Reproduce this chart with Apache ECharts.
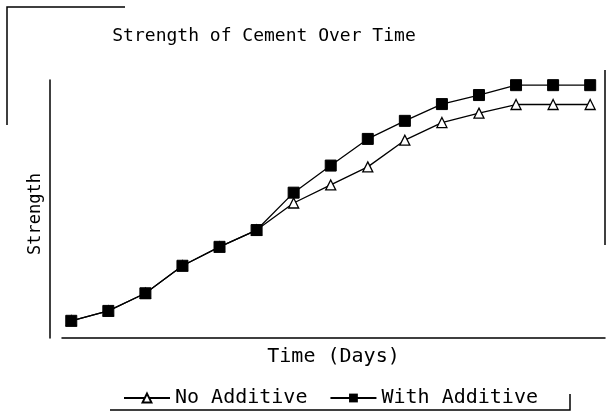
<html>
<head>
    <meta charset='utf-8'>
    <script src='https://cdn.jsdelivr.net/npm/echarts@6/dist/echarts.min.js'></script>
    <style>
        html, body, #main {
            width: 100%;
            height: 100%;
            margin: 0;
            background: #fff;
        }
    </style>
</head>
<body>
<div id='main'></div>
<script>
    // day index along the x axis (no tick labels in the original)
    var days = [1, 2, 3, 4, 5, 6, 7, 8, 9, 10, 11, 12, 13, 14, 15];
    var noAdditive = [4.0, 6.3, 10.4, 16.8, 21.2, 25.1, 31.4, 35.6, 39.8, 46.0, 50.1, 52.3, 54.3, 54.3, 54.3];
    var withAdditive = [4.0, 6.3, 10.4, 16.8, 21.2, 25.1, 33.8, 40.1, 46.3, 50.5, 54.4, 56.5, 58.8, 58.8, 58.8];

    var mono = 'DejaVu Sans Mono';
    function pairs(vals) {
        var res = [];
        for (var i = 0; i < days.length; i++) {
            res.push([days[i], vals[i]]);
        }
        return res;
    }

    var myChart = echarts.init(document.getElementById('main'));
    myChart.setOption({
        backgroundColor: '#fff',
        animation: false,
        title: {
            text: 'Strength of Cement Over Time',
            left: 259,
            textAlign: 'center',
            top: 22,
            textStyle: {
                fontFamily: mono,
                fontSize: 18,
                fontWeight: 'normal',
                color: '#000'
            }
        },
        legend: {
            left: 118,
            top: 383,
            itemGap: 22,
            itemWidth: 46,
            itemHeight: 11,
            textStyle: {
                fontFamily: mono,
                fontSize: 20,
                color: '#000'
            },
            data: ['No Additive', 'With Additive']
        },
        grid: {
            left: 62,
            right: 7,
            top: 80,
            bottom: 78
        },
        xAxis: {
            type: 'value',
            min: 0.75,
            max: 15.4,
            name: 'Time (Days)',
            nameLocation: 'middle',
            nameGap: 9,
            nameTextStyle: {
                fontFamily: mono,
                fontSize: 20,
                color: '#000'
            },
            axisLine: { lineStyle: { color: '#000', width: 1.5 } },
            axisTick: { show: false },
            axisLabel: { show: false },
            splitLine: { show: false }
        },
        yAxis: {
            type: 'value',
            min: 0,
            max: 60,
            offset: 12,
            name: 'Strength',
            nameLocation: 'middle',
            nameGap: 6,
            nameTextStyle: {
                fontFamily: mono,
                fontSize: 17,
                color: '#000',
                padding: [0, 10, 0, 0]
            },
            axisLine: { show: true, lineStyle: { color: '#000', width: 1.5 } },
            axisTick: { show: false },
            axisLabel: { show: false },
            splitLine: { show: false }
        },
        graphic: [
            {
                type: 'polyline',
                shape: { points: [[110, 410], [570, 410], [570, 394]] },
                style: { stroke: '#000', lineWidth: 1.5, fill: null }
            },
            {
                type: 'polyline',
                shape: { points: [[7, 125], [7, 7], [125, 7]] },
                style: { stroke: '#000', lineWidth: 1.5, fill: null }
            },
            {
                type: 'line',
                shape: { x1: 605, y1: 70, x2: 605, y2: 245 },
                style: { stroke: '#000', lineWidth: 1.5 }
            }
        ],
        series: [
            {
                name: 'No Additive',
                type: 'line',
                data: pairs(noAdditive),
                symbol: 'triangle',
                symbolSize: 10,
                lineStyle: { color: '#000', width: 1.3 },
                itemStyle: { color: '#fff', borderColor: '#000', borderWidth: 1.3 }
            },
            {
                name: 'With Additive',
                type: 'line',
                data: pairs(withAdditive),
                symbol: 'rect',
                symbolSize: 11,
                lineStyle: { color: '#000', width: 1.3 },
                itemStyle: { color: '#000', borderColor: '#000' }
            }
        ]
    });
</script>
</body>
</html>
